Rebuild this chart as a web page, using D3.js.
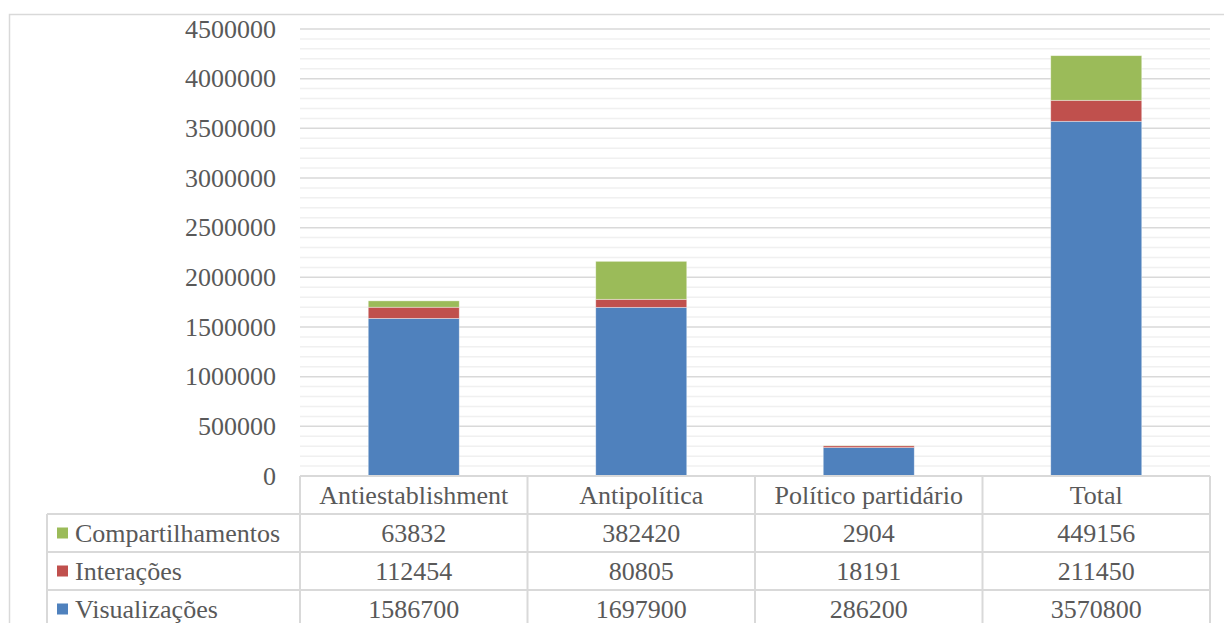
<!DOCTYPE html>
<html>
<head>
<meta charset="utf-8">
<script src="https://cdn.jsdelivr.net/npm/d3@7"></script>
<style>
  body { margin: 0; background: #fff; }
</style>
</head>
<body>
<div id="chart"></div>
<script>
// Categories and series values
const categories = ["Antiestablishment", "Antipolítica", "Político partidário", "Total"];
const visualizacoes = [1586700, 1697900, 286200, 3570800];
const interacoes = [112454, 80805, 18191, 211450];
const compartilhamentos = [63832, 382420, 2904, 449156];
const seriesNames = ["Visualizações", "Interações", "Compartilhamentos"];
const seriesColors = ["#4f81bd", "#c0504d", "#9bbb59"];
const yTicks = [0, 500000, 1000000, 1500000, 2000000, 2500000, 3000000, 3500000, 4000000, 4500000];

const width = 1224, height = 623;
const plot = { left: 300, right: 1210, top: 29, bottom: 476 };
const rowH = 38;
const tableLeft = 47;
const FONT = "'Liberation Serif', 'Times New Roman', serif";
const textColor = "#595959";

const svg = d3.select("#chart").append("svg")
  .attr("width", width)
  .attr("height", height)
  .attr("font-family", FONT);

// Outer chart-area border
svg.append("path")
  .attr("d", `M9.5,${height} V14.5 H${width}`)
  .attr("fill", "none")
  .attr("stroke", "#d9d9d9")
  .attr("stroke-width", 1.5);

const data = categories.map((c, i) => ({
  category: c,
  "Visualizações": visualizacoes[i],
  "Interações": interacoes[i],
  "Compartilhamentos": compartilhamentos[i]
}));

const x = d3.scaleBand()
  .domain(categories)
  .range([plot.left, plot.right])
  .paddingInner(0.6)
  .paddingOuter(0.3);

const xCol = d3.scaleBand()
  .domain(categories)
  .range([plot.left, plot.right]);

const y = d3.scaleLinear()
  .domain([0, 4500000])
  .range([plot.bottom, plot.top]);

// Minor gridlines
svg.append("g")
  .selectAll("line")
  .data(d3.range(100000, 4500001, 100000).filter(v => v % 500000 !== 0))
  .join("line")
  .attr("x1", plot.left).attr("x2", plot.right)
  .attr("y1", d => y(d)).attr("y2", d => y(d))
  .attr("stroke", "#f0f0f0")
  .attr("stroke-width", 1.5);

// Major gridlines
svg.append("g")
  .selectAll("line")
  .data(yTicks.filter(v => v > 0))
  .join("line")
  .attr("x1", plot.left).attr("x2", plot.right)
  .attr("y1", d => y(d)).attr("y2", d => y(d))
  .attr("stroke", "#d9d9d9")
  .attr("stroke-width", 1.5);

// Y axis labels
const yAxis = svg.append("g")
  .attr("transform", `translate(${plot.left - 24},0)`)
  .call(d3.axisLeft(y).tickValues(yTicks).tickSize(0).tickPadding(0).tickFormat(d3.format("d")));
yAxis.attr("font-family", FONT).attr("font-size", 26);
yAxis.select(".domain").remove();
yAxis.selectAll("text")
  .attr("fill", textColor)
  .style("font-family", FONT)
  .style("font-size", "26px");

// Stacked bars
const stack = d3.stack().keys(seriesNames);
const layers = stack(data);

svg.append("g")
  .selectAll("g")
  .data(layers)
  .join("g")
  .attr("fill", (d, i) => seriesColors[i])
  .selectAll("rect")
  .data(d => d)
  .join("rect")
  .attr("x", d => x(d.data.category))
  .attr("width", x.bandwidth())
  .attr("y", d => y(d[1]))
  .attr("height", d => y(d[0]) - y(d[1]))
  .attr("stroke", "#ffffff")
  .attr("stroke-opacity", 0.5)
  .attr("stroke-width", 0.75);

// Data table
const tableRows = [
  { name: "Compartilhamentos", values: compartilhamentos, color: seriesColors[2] },
  { name: "Interações", values: interacoes, color: seriesColors[1] },
  { name: "Visualizações", values: visualizacoes, color: seriesColors[0] }
];
const rowY = d3.scaleBand()
  .domain(["header"].concat(tableRows.map(r => r.name)))
  .range([plot.bottom, plot.bottom + rowH * 4]);

const table = svg.append("g");
const border = "#d9d9d9";

// Horizontal lines
table.append("line")
  .attr("x1", plot.left).attr("x2", plot.right)
  .attr("y1", plot.bottom).attr("y2", plot.bottom)
  .attr("stroke", border).attr("stroke-width", 2);
table.selectAll(".hline")
  .data(tableRows)
  .join("line")
  .attr("class", "hline")
  .attr("x1", tableLeft).attr("x2", plot.right)
  .attr("y1", d => rowY(d.name)).attr("y2", d => rowY(d.name))
  .attr("stroke", border).attr("stroke-width", 2);

// Vertical lines
table.selectAll(".vline")
  .data(categories.concat(["end"]))
  .join("line")
  .attr("class", "vline")
  .attr("x1", (d, i) => i < categories.length ? xCol(d) : plot.right)
  .attr("x2", (d, i) => i < categories.length ? xCol(d) : plot.right)
  .attr("y1", plot.bottom).attr("y2", height)
  .attr("stroke", border).attr("stroke-width", 2);
table.append("line")
  .attr("x1", tableLeft).attr("x2", tableLeft)
  .attr("y1", rowY(tableRows[0].name)).attr("y2", height)
  .attr("stroke", border).attr("stroke-width", 2);

// Header labels
table.selectAll(".head")
  .data(categories)
  .join("text")
  .attr("class", "head")
  .attr("x", d => xCol(d) + xCol.bandwidth() / 2)
  .attr("y", rowY("header") + rowY.bandwidth() / 2)
  .attr("dy", "0.35em")
  .attr("text-anchor", "middle")
  .attr("fill", textColor)
  .style("font-family", FONT)
  .style("font-size", "26px")
  .text(d => d);

// Rows
const rows = table.selectAll(".row")
  .data(tableRows)
  .join("g")
  .attr("class", "row")
  .attr("transform", d => `translate(0,${rowY(d.name)})`);

rows.append("rect")
  .attr("x", 57)
  .attr("y", rowY.bandwidth() / 2 - 5.5)
  .attr("width", 11)
  .attr("height", 11)
  .attr("fill", d => d.color);

rows.append("text")
  .attr("x", 75)
  .attr("y", rowY.bandwidth() / 2)
  .attr("dy", "0.35em")
  .attr("fill", textColor)
  .style("font-family", FONT)
  .style("font-size", "26px")
  .text(d => d.name);

rows.selectAll(".val")
  .data(d => d.values.map((v, i) => ({ v, c: categories[i] })))
  .join("text")
  .attr("class", "val")
  .attr("x", d => xCol(d.c) + xCol.bandwidth() / 2)
  .attr("y", rowY.bandwidth() / 2)
  .attr("dy", "0.35em")
  .attr("text-anchor", "middle")
  .attr("fill", textColor)
  .style("font-family", FONT)
  .style("font-size", "26px")
  .text(d => d.v);
</script>
</body>
</html>
